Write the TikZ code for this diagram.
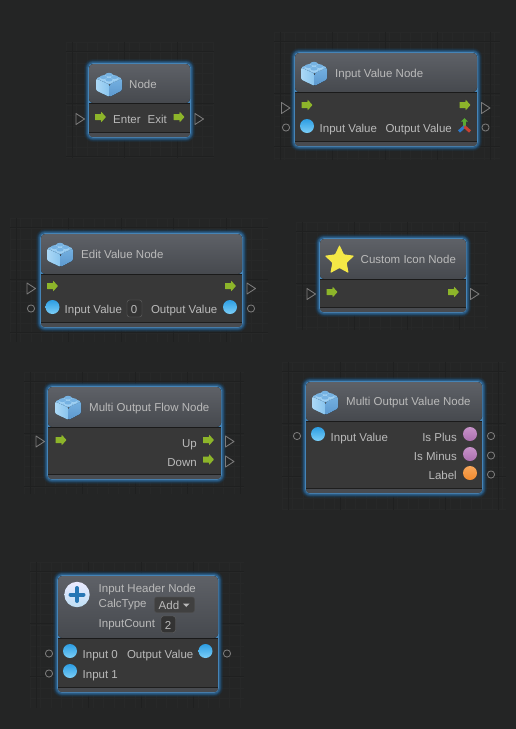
\documentclass[tikz,border=0pt]{standalone}
\usepackage{fontspec}
\setmainfont{Liberation Sans}
\usetikzlibrary{shapes.geometric}
\definecolor{bg}{HTML}{242525}
\definecolor{gridl}{HTML}{272828}
\definecolor{gridm}{HTML}{1F2020}
\definecolor{txt}{HTML}{BABABA}
\definecolor{flowg}{HTML}{8DB52A}
\definecolor{portc}{HTML}{7C7C7C}
\definecolor{glowa}{HTML}{1E3D58}
\definecolor{glowb}{HTML}{2A5B84}
\definecolor{glowc}{HTML}{4684B6}
\tikzset{
  x=1pt,y=-1pt,
  lbl/.style={text=txt,inner sep=0pt,font=\fontsize{11.5}{13}\selectfont,anchor=base},
  lblw/.style={lbl,anchor=base west},
  lble/.style={lbl,anchor=base east},
  port/.style={draw=portc,line width=.85pt,fill=none,line join=round},
  valfield/.style={fill=black!80,rounded corners=2.5pt,draw=black!60,line width=.4pt},
}
% glow box: left top right bottom header-line lower-line
\newcommand{\nodebox}[6]{%
  \fill[rounded corners=9pt,fill=glowa,opacity=.25] (#1-5,#2-5) rectangle (#3+5,#4+5);
  \fill[rounded corners=8pt,fill=glowa,opacity=.5] (#1-4,#2-4) rectangle (#3+4,#4+4);
  \fill[rounded corners=7pt,fill=glowb,opacity=.55] (#1-3,#2-3) rectangle (#3+3,#4+3);
  \fill[rounded corners=6pt,fill=glowb] (#1-2,#2-2) rectangle (#3+2,#4+2);
  \fill[rounded corners=5pt,fill=glowc] (#1-.9,#2-.9) rectangle (#3+.9,#4+.9);
  \fill[rounded corners=4pt,top color={rgb,255:red,94;green,97;blue,103},bottom color={rgb,255:red,70;green,73;blue,78}] (#1,#2) rectangle (#3,#5);
  \fill[rounded corners=3pt,fill={rgb,255:red,72;green,75;blue,80}] (#1,#6-2) rectangle (#3,#4);
  \fill[fill={rgb,255:red,56;green,56;blue,56}] (#1,#5) rectangle (#3,#6);
  \draw[line width=1pt,color={rgb,255:red,26;green,26;blue,26}] (#1,#5) -- (#3,#5);
  \draw[line width=1pt,color={rgb,255:red,30;green,30;blue,30}] (#1,#6) -- (#3,#6);
}
% grid: left top right bottom
\newcommand{\gridbox}[4]{%
  \begin{scope}
    \clip (#1,#2) rectangle (#3,#4);
    \foreach \k in {-1,...,60}{
      \draw[gridl,line width=.5pt] (#1+\k*10.5,#2) -- (#1+\k*10.5,#4);
      \draw[gridl,line width=.5pt] (#1,#2+\k*10.5) -- (#3,#2+\k*10.5);
    }
    \foreach \k in {0,...,12}{
      \draw[gridm,line width=.7pt] (#1+\k*52.5+6,#2) -- (#1+\k*52.5+6,#4);
      \draw[gridm,line width=.7pt] (#1,#2+\k*52.5+9) -- (#3,#2+\k*52.5+9);
    }
  \end{scope}
}
\newcommand{\brick}[2]{%
  \begin{scope}[shift={(#1,#2)}]
    \fill[rounded corners=1.2pt,left color={rgb,255:red,172;green,216;blue,246},right color={rgb,255:red,136;green,196;blue,238}] (-13,-4.5) -- (0.5,1.5) -- (0.5,14) -- (-13,7.5) -- cycle;
    \fill[rounded corners=1.2pt,top color={rgb,255:red,116;green,176;blue,224},bottom color={rgb,255:red,92;green,152;blue,206}] (0.5,1.5) -- (13,-4.5) -- (13,7.5) -- (0.5,14) -- cycle;
    \fill[rounded corners=1.2pt,fill={rgb,255:red,132;green,190;blue,234}] (-13,-4.5) -- (0,-10) -- (13,-4.5) -- (0.5,1.5) -- cycle;
    \foreach \a/\b in {0/-6.5,-5.5/-4,5.5/-4,0/-1.5}{
      \fill[fill={rgb,255:red,160;green,208;blue,242}] (\a,\b) ellipse[x radius=3.6,y radius=1.9];
      \fill[fill={rgb,255:red,160;green,208;blue,242}] (\a-3.6,\b-1.8) rectangle (\a+3.6,\b);
      \fill[fill={rgb,255:red,118;green,178;blue,226}] (\a,\b-1.8) ellipse[x radius=3.6,y radius=1.9];
    }
  \end{scope}
}
\newcommand{\flowarrow}[2]{%
  \fill[flowg,rounded corners=.4pt] (#1-5.5,#2-3) -- (#1+.5,#2-3) -- (#1+.5,#2-5.5) -- (#1+5.5,#2) -- (#1+.5,#2+5.5) -- (#1+.5,#2+3) -- (#1-5.5,#2+3) -- cycle;
}
\newcommand{\flowport}[2]{%
  \draw[port] (#1-4,#2-5.5) -- (#1+4.5,#2) -- (#1-4,#2+5.5) -- cycle;
}
\newcommand{\valport}[2]{%
  \draw[port] (#1,#2) circle[radius=3.6];
}
\newcommand{\dotc}[5]{%
  \shade[top color=#3,bottom color=#4] (#1,#2) circle[radius=#5];
}
\definecolor{bluet}{HTML}{2D9EE3}
\definecolor{blueb}{HTML}{7CCEF7}
\definecolor{purpt}{HTML}{AB6FAE}
\definecolor{purpb}{HTML}{C792C9}
\definecolor{orat}{HTML}{F08A2E}
\definecolor{orab}{HTML}{F7A65A}
\newcommand{\bluedot}[2]{\dotc{#1}{#2}{bluet}{blueb}{7}}
\newcommand{\purpdot}[2]{\dotc{#1}{#2}{purpb}{purpt}{7}}
\newcommand{\oradot}[2]{\dotc{#1}{#2}{orab}{orat}{7}}
\begin{document}
\begin{tikzpicture}
\useasboundingbox (0,0) rectangle (516,729);
\fill[bg] (0,0) rectangle (516,729);
% grids
\gridbox{66}{42}{214}{158}
\gridbox{274}{32}{500}{160}
\gridbox{10}{218}{268}{342}
\gridbox{296}{222}{488}{330}
\gridbox{24}{372}{244}{494}
\gridbox{282}{362}{506}{510}
\gridbox{30}{562}{244}{708}

% Node
\nodebox{89}{64}{190}{137}{103}{132}
\brick{109}{83}
\node[lblw] (n1t) at (129,88) {Node};
\flowarrow{100.5}{117}
\node[lblw] (n1a) at (113,123) {Enter};
\node[lble] (n1b) at (167,123) {Exit};
\flowarrow{179}{117}
\flowport{80}{119}
\flowport{199}{119}

% Input Value Node
\nodebox{295}{53}{477}{146}{92}{141}
\brick{314}{72}
\node[lblw] (n2t) at (335,77) {Input Value Node};
\flowarrow{307}{105}
\flowarrow{465}{105}
\flowport{285.5}{108}
\flowport{485.5}{108}
\bluedot{307}{126}
\node[lblw] (n2a) at (319.5,132) {Input Value};
\node[lble] (n2b) at (452,132) {Output Value};
\valport{286}{127.5}
\valport{485.5}{127.5}
% axes icon
\draw[line width=2.4pt,color={rgb,255:red,90;green,170;blue,50}] (464.5,127) -- (464.5,120);
\fill[color={rgb,255:red,90;green,170;blue,50}] (461,121.5) -- (464.5,118) -- (468,121.5) -- cycle;
\draw[line width=3pt,color={rgb,255:red,45;green,120;blue,200}] (464.5,126.5) -- (459,131.5);
\draw[line width=3pt,color={rgb,255:red,200;green,65;blue,50}] (464.5,126.5) -- (470,131.5);

% Edit Value Node
\nodebox{41}{234}{242}{327}{274}{322}
\brick{60}{253}
\node[lblw] (n3t) at (81,258) {Edit Value Node};
\flowarrow{52.5}{286}
\flowarrow{230.5}{286}
\flowport{31}{288.5}
\flowport{251}{288.5}
\bluedot{52.5}{307}
\node[lblw] (n3a) at (64.5,313) {Input Value};
\fill[valfield] (127,300) rectangle (142,317);
\node[lbl] (n3v) at (134,313) {0};
\node[lble] (n3b) at (217.5,313) {Output Value};
\bluedot{230}{307}
\valport{31}{308.5}
\valport{251}{308.5}

% Custom Icon Node
\nodebox{320}{239}{466}{312}{279}{307}
\node[star,star points=5,star point ratio=2.05,minimum size=31pt,inner sep=0pt,fill={rgb,255:red,244;green,232;blue,70},rounded corners=.8pt] (n4s) at (339.5,260.5) {};
\node[lblw] (n4t) at (360.5,263) {Custom Icon Node};
\flowarrow{332}{292}
\flowarrow{453.5}{292}
\flowport{311}{294}
\flowport{474.5}{294}

% Multi Output Flow Node
\nodebox{48}{387}{221}{479}{427}{474}
\brick{68}{406}
\node[lblw] (n5t) at (89,411) {Multi Output Flow Node};
\flowarrow{61}{440}
\flowarrow{208.5}{440}
\node[lble] (n5a) at (197,447) {Up};
\flowarrow{208.5}{459.5}
\node[lble] (n5b) at (197,466) {Down};
\flowport{40}{441.5}
\flowport{229.5}{441.5}
\flowport{229.5}{461.5}

% Multi Output Value Node
\nodebox{306}{382}{482}{493}{421}{488}
\brick{325}{401}
\node[lblw] (n6t) at (346,405) {Multi Output Value Node};
\bluedot{318}{434}
\node[lblw] (n6a) at (330.5,441) {Input Value};
\node[lble] (n6b) at (457,441) {Is Plus};
\purpdot{470}{434}
\node[lble] (n6c) at (457,460) {Is Minus};
\purpdot{470}{454}
\node[lble] (n6d) at (457,479) {Label};
\oradot{470}{473}
\valport{297}{436}
\valport{491}{436}
\valport{491}{455.5}
\valport{491}{474.5}

% Input Header Node
\nodebox{58}{576}{218}{692}{638}{687}
\shade[top color=white!92!blue,bottom color={rgb,255:red,190;green,222;blue,244}] (77,594.5) circle[radius=12.7];
\draw[line width=4pt,line cap=round,color={rgb,255:red,38;green,118;blue,180}] (77,588) -- (77,601);
\draw[line width=4pt,line cap=round,color={rgb,255:red,38;green,118;blue,180}] (70.5,594.5) -- (83.5,594.5);
\node[lblw] (n7t) at (98.5,592) {Input Header Node};
\node[lblw] (n7c) at (98.5,607) {CalcType};
\fill[fill={rgb,255:red,64;green,64;blue,64},draw=black!70,rounded corners=2.5pt,line width=.5pt] (154.5,597) rectangle (194.5,612.5);
\node[lblw] (n7d) at (158.5,609) {Add};
\fill[txt] (183,603.5) -- (189.5,603.5) -- (186.25,607) -- cycle;
\node[lblw] (n7i) at (98.5,627) {InputCount};
\fill[valfield] (161,616) rectangle (175.5,632.5);
\node[lbl] (n7v) at (168,629) {2};
\bluedot{70}{651}
\node[lblw] (n7a) at (82.5,658) {Input 0};
\node[lble] (n7b) at (193.5,658) {Output Value};
\bluedot{205.5}{651}
\bluedot{70}{671}
\node[lblw] (n7e) at (82.5,678) {Input 1};
\valport{49}{653.5}
\valport{227}{653.5}
\valport{49}{673.5}
\end{tikzpicture}
\end{document}
